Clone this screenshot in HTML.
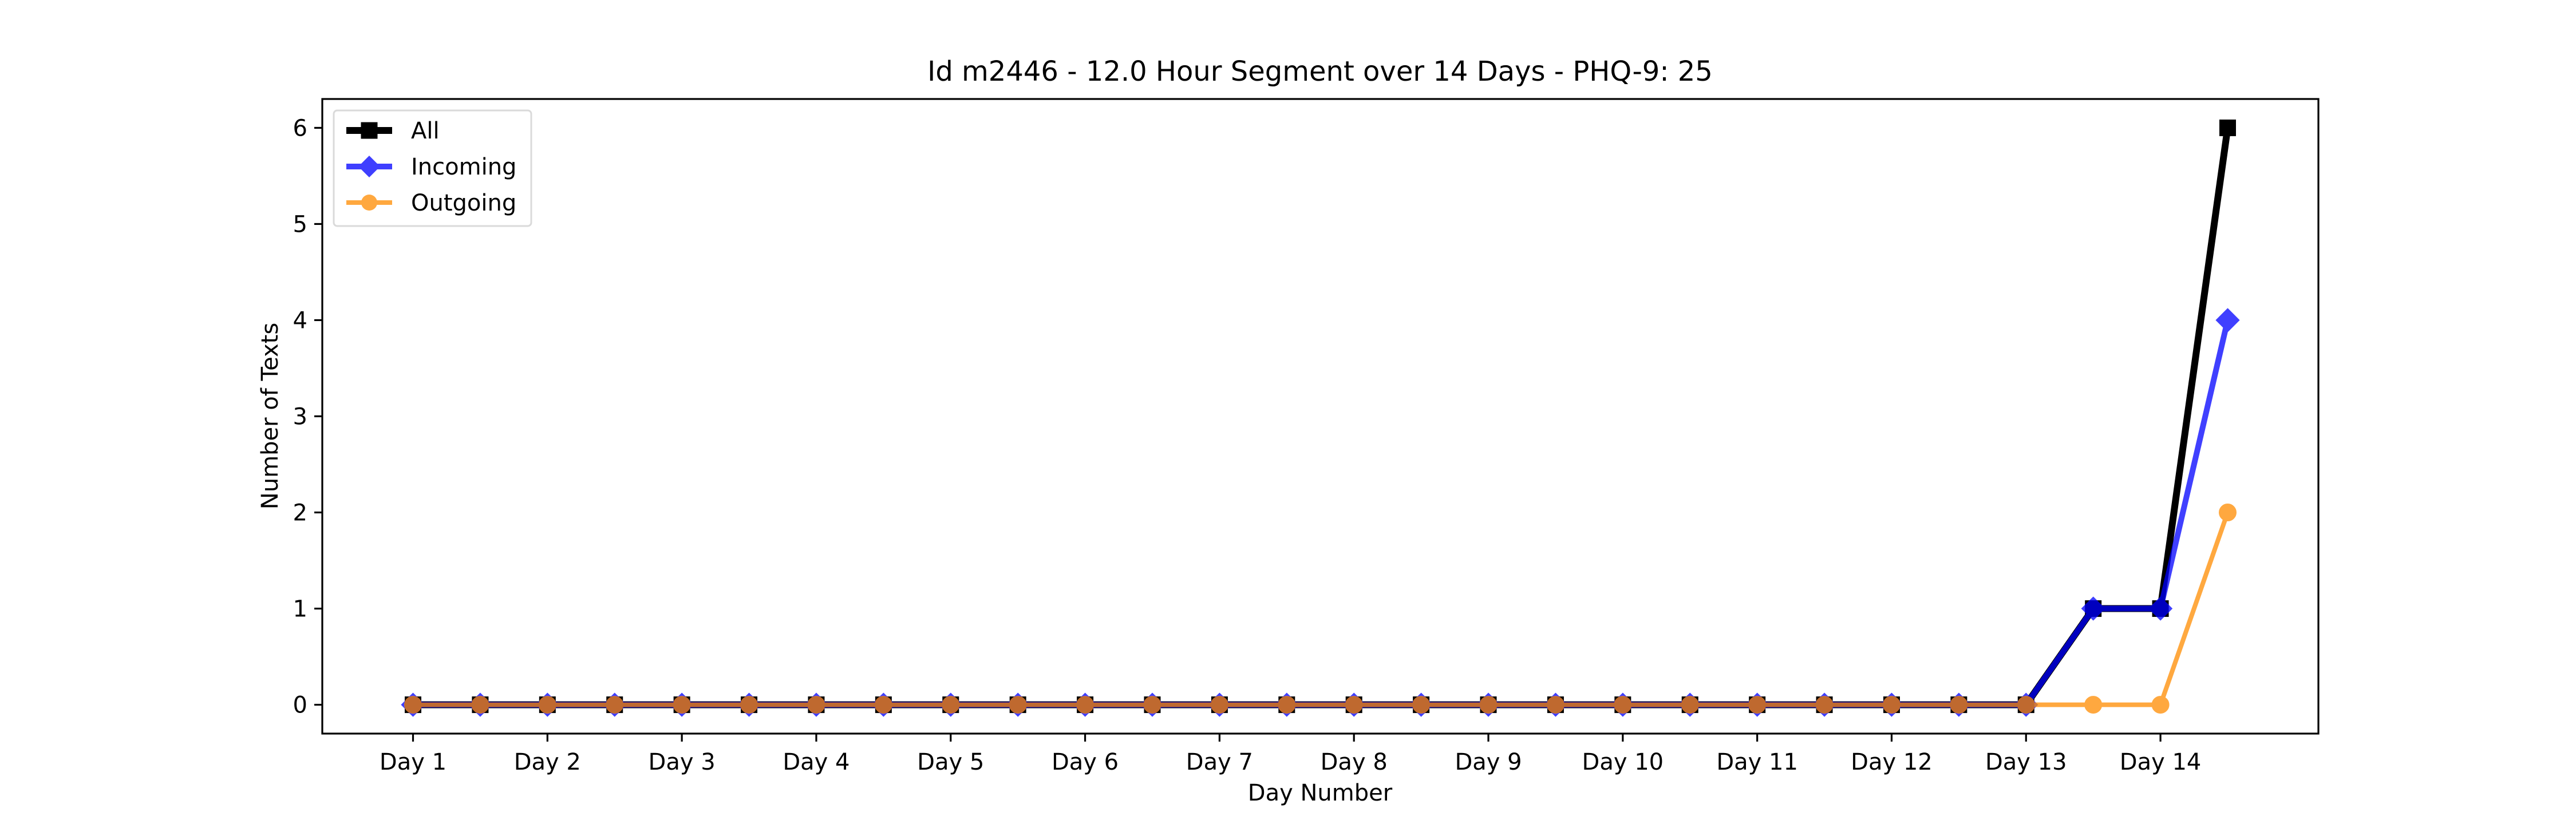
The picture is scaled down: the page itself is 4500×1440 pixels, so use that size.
<!DOCTYPE html>
<html><head><meta charset="utf-8"><style>
html,body{margin:0;padding:0;background:#fff;}
svg{display:block;font-family:"DejaVu Sans","Liberation Sans",sans-serif;}
</style></head><body>
<svg id="chart" width="4500" height="1440" viewBox="0 0 4500 1440" xmlns="http://www.w3.org/2000/svg">
<rect width="4500" height="1440" fill="#fff"/>
<text x="2306" y="141" font-size="48" text-anchor="middle">Id m2446 - 12.0 Hour Segment over 14 Days - PHQ-9: 25</text>
<g id="plot"></g>
<text x="2306" y="1399" font-size="40" text-anchor="middle">Day Number</text>
<text x="0" y="0" font-size="40" text-anchor="middle" transform="translate(485,727) rotate(-90)">Number of Texts</text>
</svg>
<script>
const xLabels = ["Day 1","Day 2","Day 3","Day 4","Day 5","Day 6","Day 7","Day 8","Day 9","Day 10","Day 11","Day 12","Day 13","Day 14"];
const yTicks = [0,1,2,3,4,5,6];
const allValues = [0,0,0,0,0,0,0,0,0,0,0,0,0,0,0,0,0,0,0,0,0,0,0,0,0,1,1,6];
const incomingValues = [0,0,0,0,0,0,0,0,0,0,0,0,0,0,0,0,0,0,0,0,0,0,0,0,0,1,1,4];
const outgoingValues = [0,0,0,0,0,0,0,0,0,0,0,0,0,0,0,0,0,0,0,0,0,0,0,0,0,0,0,2];

const NS = "http://www.w3.org/2000/svg";
const L = 563, R = 4050, T = 173, B = 1282;
const n = allValues.length;
const xmin = -0.05*(n-1), xmax = (n-1)*1.05;
const ymin = -0.3, ymax = 6.3;
const sx = i => L + (i - xmin) / (xmax - xmin) * (R - L);
const sy = v => B - (v - ymin) / (ymax - ymin) * (B - T);
const plot = document.getElementById('plot');
function mk(tag, attrs, parent) {
  const e = document.createElementNS(NS, tag);
  for (const k in attrs) e.setAttribute(k, attrs[k]);
  (parent || plot).appendChild(e);
  return e;
}
const frame = mk('rect', {x:L, y:T, width:R-L, height:B-T, fill:'none', stroke:'#000', 'stroke-width':3.2});


xLabels.forEach((lab, k) => {
  const x = sx(k*2);
  const t = mk('line', {x1:x, x2:x, y1:B, y2:B+14, stroke:'#000', 'stroke-width':3.2});
  
  
  const tx = mk('text', {x:x, y:B+63, 'font-size':40, 'text-anchor':'middle'});
  tx.textContent = lab;
  
  
});
yTicks.forEach(v => {
  const y = sy(v);
  const t = mk('line', {x1:L-14, x2:L, y1:y, y2:y, stroke:'#000', 'stroke-width':3.2});
  
  
  const tx = mk('text', {x:L-26, y:y+14, 'font-size':40, 'text-anchor':'end'});
  tx.textContent = v;
  
  
});
function series(vals, color, opacity, lw, marker, ms, name) {
  const g = mk('g', {opacity: opacity});
  
  
  const pts = vals.map((v,i) => sx(i)+','+sy(v)).join(' ');
  const pl = mk('polyline', {points:pts, fill:'none', stroke:color, 'stroke-width':lw, 'stroke-linejoin':'round'}, g);
  
  
  vals.forEach((v,i) => {
    const x = sx(i), y = sy(v);
    let m;
    if (marker === 'square') m = mk('rect', {x:x-ms/2, y:y-ms/2, width:ms, height:ms, fill:color}, g);
    else if (marker === 'diamond') m = mk('polygon', {points:`${x},${y-ms/2} ${x+ms/2},${y} ${x},${y+ms/2} ${x-ms/2},${y}`, fill:color, stroke:color, 'stroke-width':3}, g);
    else m = mk('circle', {cx:x, cy:y, r:ms/2, fill:color, stroke:color, 'stroke-width':3}, g);
    
    
  });
}
series(allValues, '#000', 1, 12, 'square', 29, 'all');
series(incomingValues, '#0000ff', 0.75, 10, 'diamond', 38, 'incoming');
series(outgoingValues, '#ff8c00', 0.75, 8, 'circle', 28, 'outgoing');
const lg = mk('g', {});


const lb = mk('rect', {x:583, y:193, width:345, height:202, rx:6, fill:'#fff', stroke:'#d6d6d6', 'stroke-width':3, opacity:0.9}, lg);


const entries = [['All','#000',1,12,'square',29],['Incoming','#0000ff',0.75,10,'diamond',38],['Outgoing','#ff8c00',0.75,8,'circle',28]];
entries.forEach((e, k) => {
  const y = 228 + k*63;
  const g = mk('g', {opacity:e[2]}, lg);
  
  
  mk('line', {x1:605, x2:685, y1:y, y2:y, stroke:e[1], 'stroke-width':e[3]}, g);
  const x = 645, ms = e[5];
  if (e[4]==='square') mk('rect', {x:x-ms/2, y:y-ms/2, width:ms, height:ms, fill:e[1]}, g);
  else if (e[4]==='diamond') mk('polygon', {points:`${x},${y-ms/2} ${x+ms/2},${y} ${x},${y+ms/2} ${x-ms/2},${y}`, fill:e[1]}, g);
  else mk('circle', {cx:x, cy:y, r:ms/2, fill:e[1]}, g);
  const t = mk('text', {x:718, y:y+14, 'font-size':40}, lg);
  t.textContent = e[0];
  
  
});
</script>
</body></html>
